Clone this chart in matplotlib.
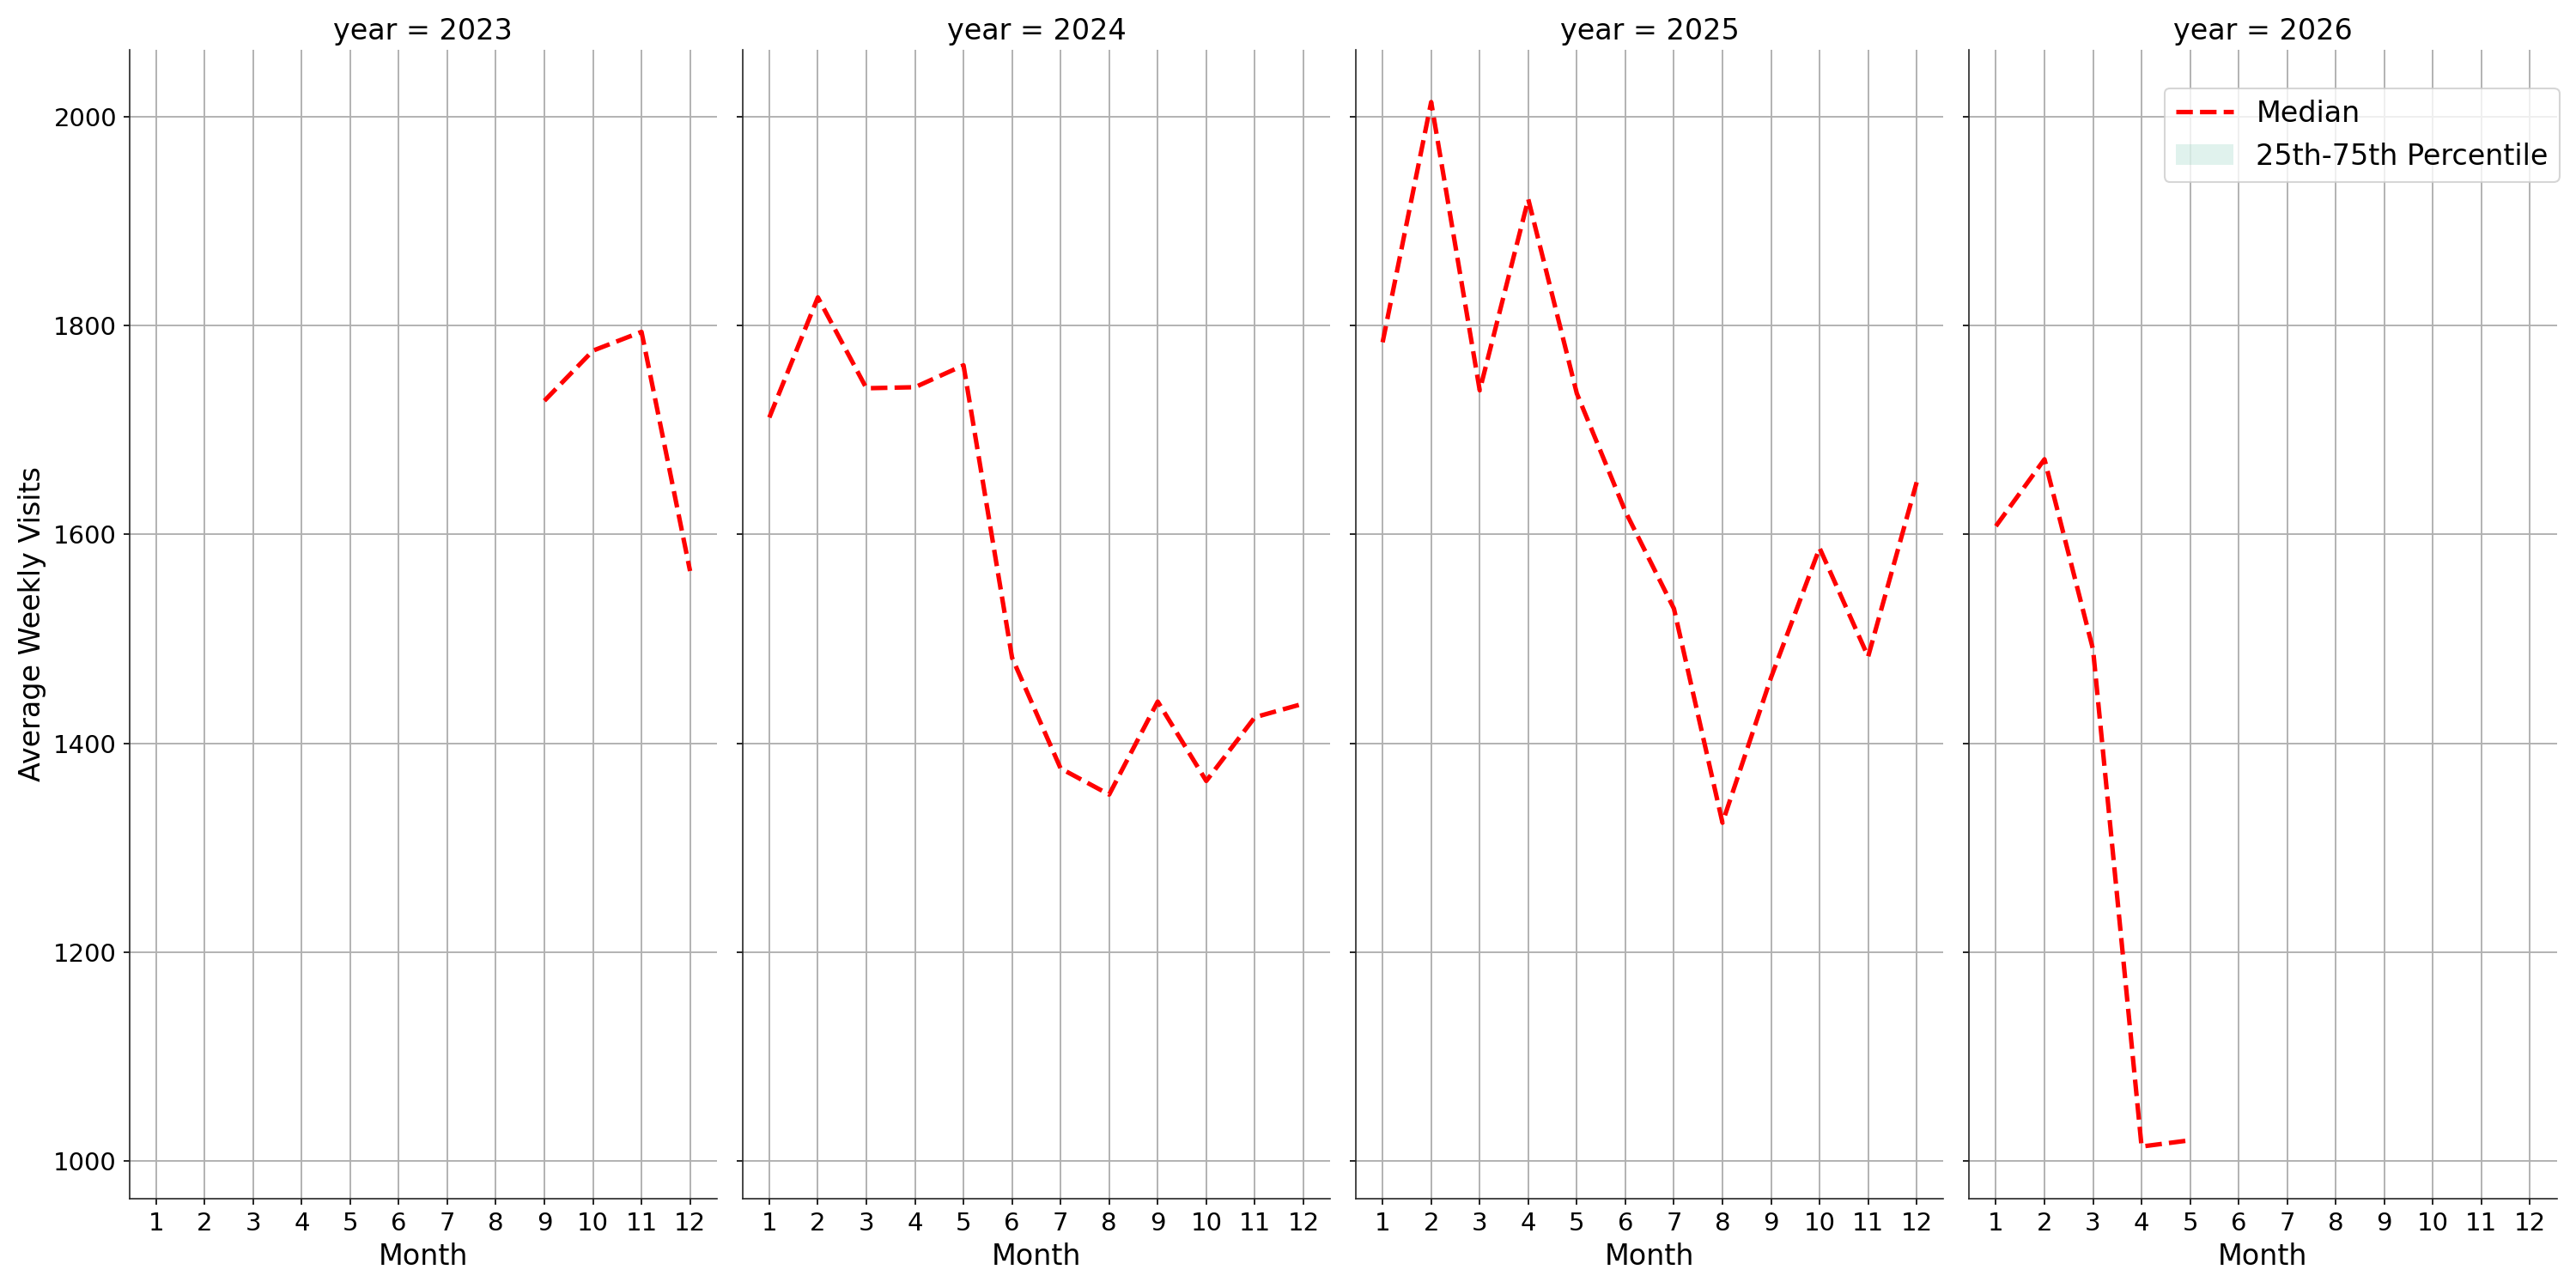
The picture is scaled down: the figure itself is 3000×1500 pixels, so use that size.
import numpy as np
import matplotlib
matplotlib.use("Agg")
import matplotlib.pyplot as plt

years = [2023, 2024, 2025, 2026]

months_2023 = [9, 10, 11, 12]
median_2023 = [1728, 1776, 1794, 1565]

months_2024 = [1, 2, 3, 4, 5, 6, 7, 8, 9, 10, 11, 12]
median_2024 = [1712, 1827, 1740, 1741, 1762, 1482, 1376, 1351, 1440, 1364, 1425, 1438]

months_2025 = [1, 2, 3, 4, 5, 6, 7, 8, 9, 10, 11, 12]
median_2025 = [1784, 2014, 1738, 1921, 1735, 1622, 1529, 1324, 1463, 1587, 1483, 1650]

months_2026 = [1, 2, 3, 4, 5]
median_2026 = [1608, 1672, 1490, 1014, 1020]

# one observation per month, so the quartile band collapses onto the median
q25 = {2023: median_2023, 2024: median_2024, 2025: median_2025, 2026: median_2026}
q75 = {2023: median_2023, 2024: median_2024, 2025: median_2025, 2026: median_2026}

data = {
    2023: (months_2023, median_2023),
    2024: (months_2024, median_2024),
    2025: (months_2025, median_2025),
    2026: (months_2026, median_2026),
}

fig, axes = plt.subplots(1, 4, figsize=(20, 10), dpi=150, sharex=True, sharey=True)
fig.subplots_adjust(left=0.0502, right=0.9925, top=0.9613, bottom=0.0693, wspace=0.044)

for ax, yr in zip(axes, years):
    m, med = data[yr]
    ax.fill_between(m, q25[yr], q75[yr], color='#66c2a5', alpha=0.2, lw=0,
                    label='25th-75th Percentile')
    ax.plot(m, med, color='red', linestyle='--', linewidth=2.5, label='Median')
    ax.set_title(f"year = {yr}", fontsize=16)
    ax.set_xlabel("Month", fontsize=16)
    ax.set_xticks(range(1, 13))
    ax.grid(True, color='#b0b0b0', linewidth=0.9)
    ax.set_axisbelow(True)
    ax.tick_params(labelsize=14)
    for s in ['top', 'right']:
        ax.spines[s].set_visible(False)
    for s in ['left', 'bottom']:
        ax.spines[s].set_color('#262626')

axes[0].set_ylabel("Average Weekly Visits", fontsize=16)
axes[0].set_xlim(0.45, 12.55)
axes[0].set_yticks([1000, 1200, 1400, 1600, 1800, 2000])

h, l = axes[3].get_legend_handles_labels()
axes[3].legend([h[1], h[0]], [l[1], l[0]], loc='upper right', fontsize=16,
               bbox_to_anchor=(0.9937, 0.9315), bbox_transform=fig.transFigure,
               borderaxespad=0)

plt.savefig('out.png')
